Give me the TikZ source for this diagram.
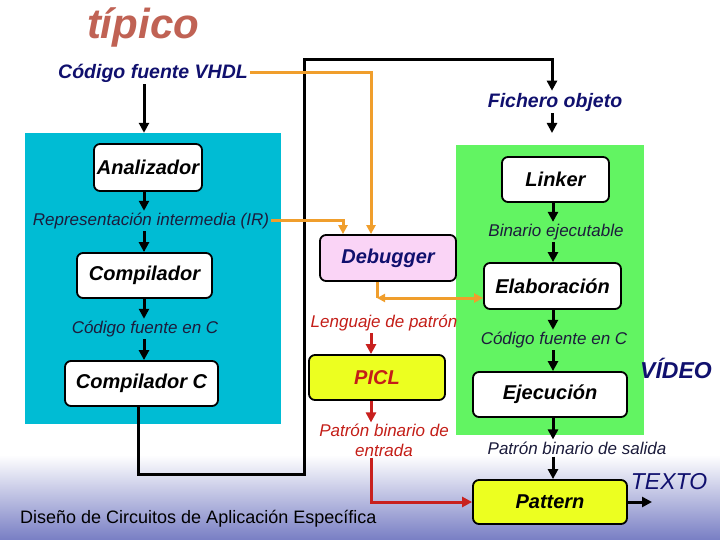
\documentclass[tikz,border=0pt]{standalone}
\usepackage{fontspec}
\setmainfont{Liberation Sans}
\usetikzlibrary{arrows.meta,calc}
\definecolor{navy}{RGB}{16,16,110}
\definecolor{labc}{RGB}{28,28,60}
\definecolor{titc}{RGB}{192,98,84}
\definecolor{cyanbg}{RGB}{0,188,212}
\definecolor{greenbg}{RGB}{98,244,98}
\definecolor{pinkbox}{RGB}{250,212,246}
\definecolor{yelbox}{RGB}{236,255,32}
\definecolor{orangel}{RGB}{240,158,44}
\definecolor{redl}{RGB}{200,32,30}
\definecolor{redt}{RGB}{196,30,24}
\definecolor{footbl}{RGB}{120,126,196}
\begin{document}
\begin{tikzpicture}[x=1pt,y=-1pt,
  box/.style={draw=black,line width=1.8pt,rounded corners=6pt,fill=white,
    inner sep=0pt,font=\fontsize{20}{24}\selectfont\bfseries\itshape},
  lab/.style={inner sep=2pt,text=labc,font=\fontsize{17}{20}\selectfont\itshape},
  rlab/.style={inner sep=2pt,text=redt,font=\fontsize{17}{20}\selectfont\itshape,align=center},
  blab/.style={inner sep=2pt,text=navy,font=\fontsize{19.5}{23}\selectfont\bfseries\itshape},
  arr/.style={line width=3pt,-{Triangle[length=10pt,width=10pt]}},
  ln/.style={line width=3pt},
  oarr/.style={line width=3pt,draw=orangel,-{Triangle[length=9pt,width=9pt]}},
  rarr/.style={line width=3pt,draw=redl,-{Triangle[length=10pt,width=10pt]}}]
\useasboundingbox (0,0) rectangle (720,540);
\fill[white] (0,0) rectangle (720,540);
\shade[top color=white,bottom color=footbl] (0,455) rectangle (720,540);
% backgrounds
\node[fill=cyanbg,inner sep=0pt,minimum width=256pt,minimum height=291pt] (cyan) at (153,278.5) {};
\node[fill=greenbg,inner sep=0pt,minimum width=188pt,minimum height=290pt] (green) at (550,290) {};
% title
\node[text=titc,font=\fontsize{42}{46}\selectfont\bfseries\itshape] (title) at (143,27) {típico};
% columns
\coordinate (cL) at (144,0);
\coordinate (cR) at (553,0);
\coordinate (cP) at (371,0);
% boxes
\node[box,minimum width=108pt,minimum height=47pt] (ana) at (148,167.5) {Analizador};
\node[box,minimum width=135pt,minimum height=45pt] (comp) at (144.5,275.5) {Compilador};
\node[box,minimum width=153pt,minimum height=45pt] (compc) at (141.5,383.5) {Compilador C};
\node[box,minimum width=107pt,minimum height=45pt] (link) at (555.5,179.5) {Linker};
\node[box,minimum width=137pt,minimum height=46pt] (elab) at (552.5,286) {Elaboración};
\node[box,minimum width=154pt,minimum height=45pt] (ejec) at (550,394.5) {Ejecución};
\node[box,fill=yelbox,minimum width=154pt,minimum height=44pt] (patt) at (550,502) {Pattern};
\node[box,fill=pinkbox,text=navy,minimum width=136pt,minimum height=46pt] (debug) at (388,258) {Debugger};
\node[box,fill=yelbox,text=redt,minimum width=136pt,minimum height=45pt] (picl) at (377,377.5) {PICL};
% labels
\node[blab] (vhdl) at (153,73) {Código fuente VHDL};
\node[blab] (fich) at (555,102) {Fichero objeto};
\node[lab] (ir) at (151,221) {Representación intermedia (IR)};
\node[lab] (cfc1) at (145,329) {Código fuente en C};
\node[lab] (bin) at (556,232) {Binario ejecutable};
\node[lab] (cfc2) at (554,340) {Código fuente en C};
\node[lab] (sal) at (577,448) {Patrón binario de salida};
\node[rlab] (leng) at (384,323) {Lenguaje de patrón};
\node[rlab,inner sep=1pt] (entr) at (384,440) {Patrón binario de\\entrada};
\node[text=navy,font=\fontsize{23}{27}\selectfont\bfseries\itshape] (video) at (676,368) {VÍDEO};
\node[text=navy,font=\fontsize{23}{27}\selectfont\itshape] (texto) at (669,482) {TEXTO};
\node[anchor=west,inner sep=0pt,font=\fontsize{18}{22}\selectfont] (foot) at (20,519) {Diseño de Circuitos de Aplicación Específica};
% black arrows left column
\draw[arr] (vhdl.south -| cL) -- (cyan.north -| cL);
\draw[arr] (ana.south -| cL) -- (ir.north -| cL);
\draw[arr] (ir.south -| cL) -- (comp.north -| cL);
\draw[arr] (comp.south -| cL) -- (cfc1.north -| cL);
\draw[arr] (cfc1.south -| cL) -- (compc.north -| cL);
% compiler C to fichero objeto
\coordinate (k1) at (138,474);
\coordinate (k2) at (304,474);
\coordinate (k3) at (304,60);
\coordinate (k4) at (552,60);
\draw[ln,line join=miter] (compc.south -| k1) -- (k1) -- (k2) -- (k3) -- (k4) -- ++(0,1);
\draw[arr] (k4) -- (fich.north -| k4);
\coordinate (gtop) at (552,133);
\draw[arr] (fich.south -| k4) -- (gtop);
% right column
\draw[arr] (link.south -| cR) -- (bin.north -| cR);
\draw[arr] (bin.south -| cR) -- (elab.north -| cR);
\draw[arr] (elab.south -| cR) -- (cfc2.north -| cR);
\draw[arr] (cfc2.south -| cR) -- (ejec.north -| cR);
\draw[arr] (ejec.south -| cR) -- (sal.north -| cR);
\draw[arr] (sal.south -| cR) -- (patt.north -| cR);
\coordinate (pout) at (652,502);
\draw[arr] (patt.east) -- (pout);
% orange
\coordinate (o1) at (371,73);
\draw[oarr,line join=miter] (vhdl.east) -- (o1) -- (debug.north -| o1);
\coordinate (o2) at (343,221);
\draw[oarr,line join=miter] (ir.east) -- (o2) -- (debug.north -| o2);
\coordinate (o3) at (377,298);
\draw[line width=3pt,draw=orangel] (debug.south -| o3) -- (o3);
\draw[line width=3pt,draw=orangel,{Triangle[length=8pt,width=8pt]}-{Triangle[length=9pt,width=9pt]}] (o3) -- (elab.west |- o3);
% red
\draw[rarr] (leng.south -| cP) -- (picl.north -| cP);
\draw[rarr] (picl.south -| cP) -- (entr.north -| cP);
\coordinate (r1) at (371,502);
\draw[rarr,line join=miter] (entr.south -| cP) -- (r1) -- (patt.west);
\end{tikzpicture}
\end{document}
